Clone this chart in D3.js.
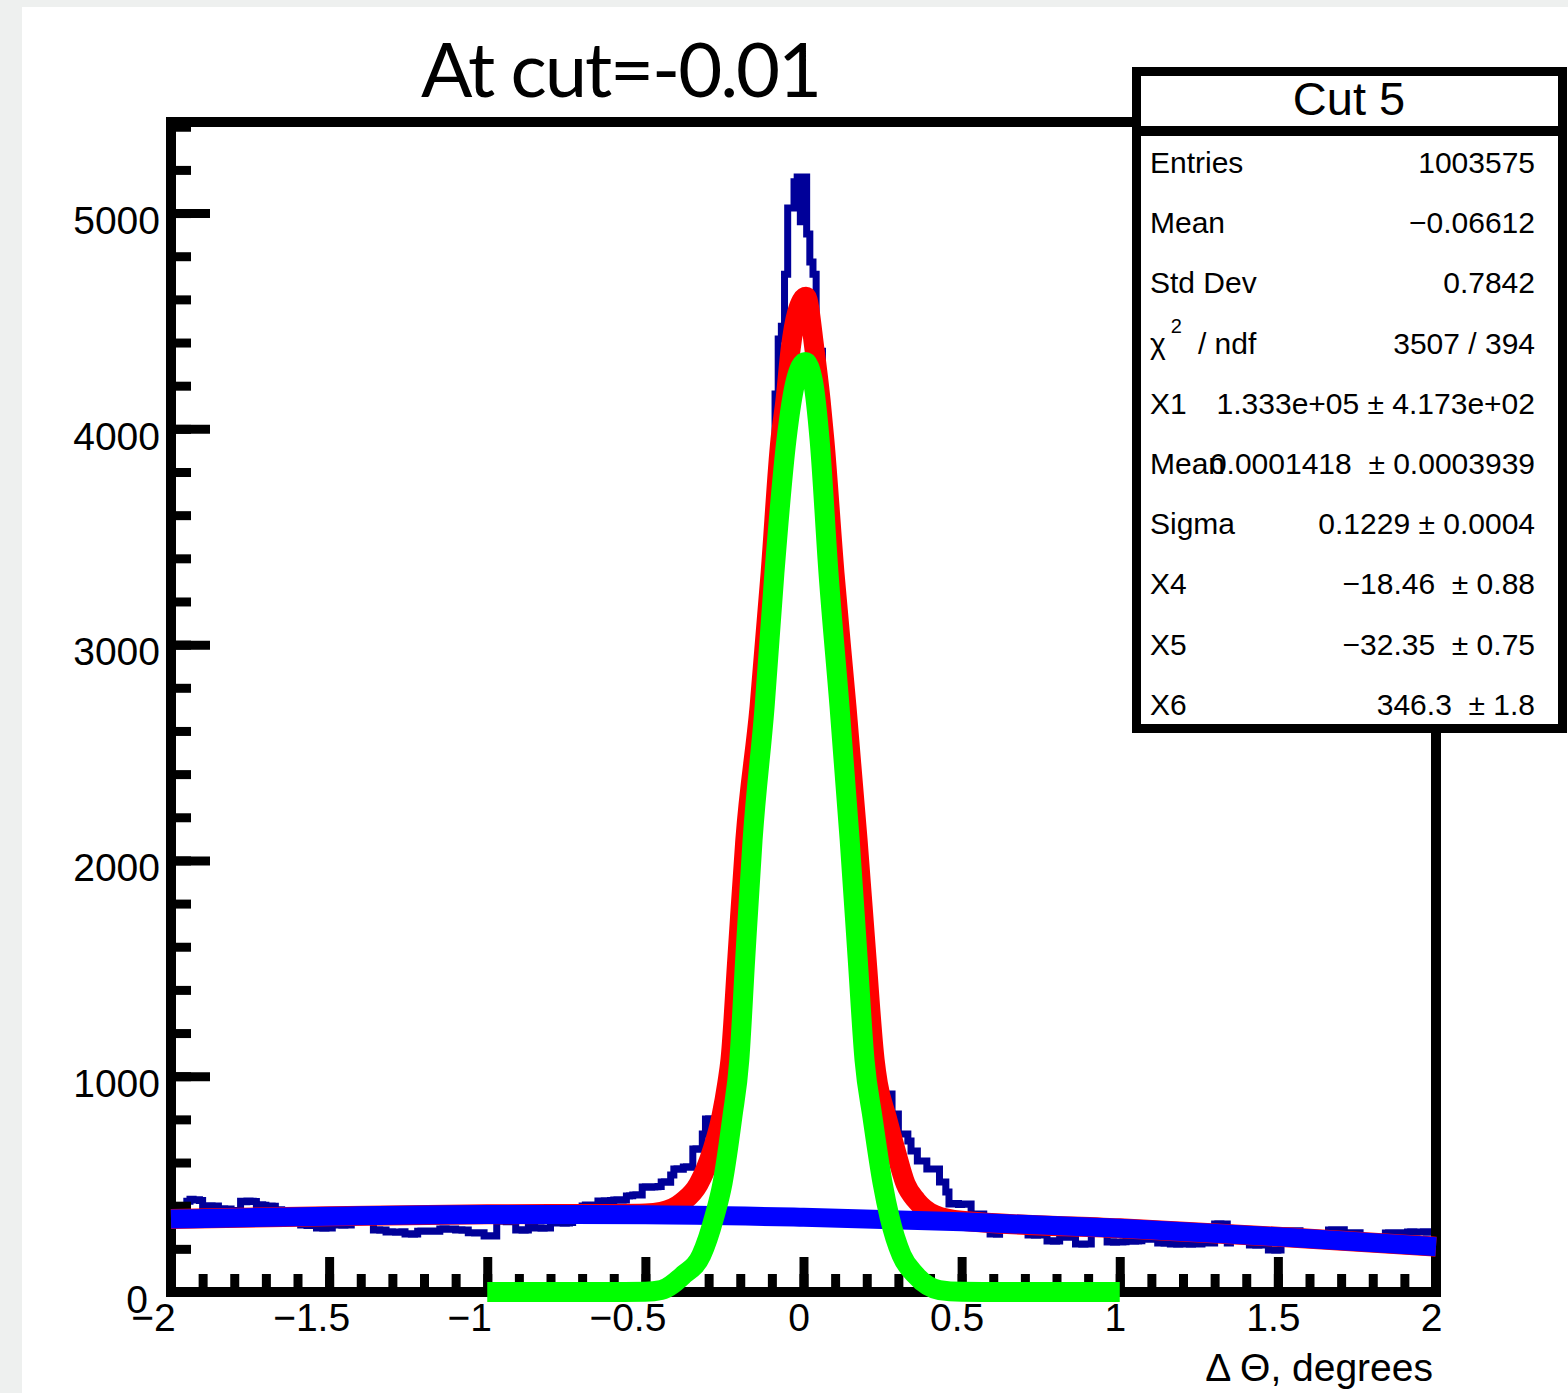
<!DOCTYPE html>
<html lang="en">
<head>
  <meta charset="UTF-8" />
  <title>At cut=-0.01</title>
  <style>
    body {
      margin: 0;
      background-color: #eef0ef;
    }
    svg {
      display: block;
    }
    text {
      font-family: 'Liberation Sans', Arial, sans-serif;
      fill: black;
    }
    .stat {
      font-size: 30px;
      white-space: pre;
    }
  </style>
  <script src="https://d3js.org/d3.v7.min.js"></script>
</head>
<body>
  <script>
    // histogram: 400 bins of 0.01 from -2 to 2
    const binStart = -2;
    const binWidth = 0.01;
    const counts = [
      360, 355, 365, 358, 352, 420, 430, 426, 428, 424,
      385, 398, 400, 396, 398, 385, 386, 384, 385, 376,
      376, 378, 420, 418, 422, 420, 419, 403, 404, 402,
      398, 399, 397, 380, 381, 345, 350, 340, 345, 348,
      342, 310, 312, 308, 311, 309, 297, 298, 296, 297,
      297, 330, 332, 310, 309, 311, 310, 335, 340, 332,
      338, 335, 330, 336, 287, 288, 286, 287, 278, 279,
      278, 277, 278, 279, 269, 270, 268, 269, 282, 283,
      281, 282, 283, 282, 281, 292, 293, 291, 292, 292,
      287, 288, 286, 287, 274, 275, 273, 274, 275, 260,
      261, 259, 260, 330, 328, 332, 325, 330, 327, 287,
      288, 286, 287, 305, 306, 297, 298, 296, 297, 297,
      325, 324, 320, 321, 319, 320, 322, 350, 348, 352,
      398, 403, 400, 402, 403, 422, 421, 423, 422, 424,
      426, 427, 425, 426, 445, 446, 450, 451, 449, 487,
      488, 486, 487, 488, 489, 510, 511, 509, 542, 570,
      571, 569, 579, 580, 578, 663, 664, 662, 732, 802,
      803, 760, 800, 840, 900, 990, 1100, 1310, 1530, 1750,
      1960, 2150, 2290, 2420, 2560, 2700, 2870, 3050, 3230, 3410,
      3610, 4161, 4416, 4476, 4717, 5023, 5023, 5145, 5167, 4960,
      5167, 4903, 4773, 4717, 4360, 4360, 3950, 3750, 3560, 3380,
      3200, 3020, 2850, 2680, 2500, 2330, 2150, 1950, 1750, 1560,
      1380, 1220, 1080, 980, 940, 917, 917, 917, 825, 825,
      732, 732, 732, 700, 653, 653, 607, 607, 607, 570,
      570, 570, 570, 510, 510, 464, 408, 408, 410, 406,
      408, 407, 408, 361, 362, 360, 361, 330, 332, 269,
      270, 268, 305, 310, 308, 312, 306, 310, 304, 309,
      305, 264, 265, 263, 264, 265, 264, 236, 237, 235,
      236, 255, 256, 254, 255, 256, 222, 223, 221, 222,
      222, 280, 275, 282, 278, 280, 232, 233, 231, 232,
      232, 233, 236, 237, 235, 236, 237, 245, 246, 244,
      245, 246, 227, 228, 226, 227, 222, 223, 221, 222,
      222, 223, 221, 222, 223, 222, 265, 262, 227, 227,
      315, 316, 314, 315, 227, 255, 252, 258, 254, 256,
      253, 218, 219, 217, 218, 219, 245, 195, 196, 194,
      195, 245, 283, 284, 282, 283, 284, 240, 244, 238,
      242, 240, 245, 238, 242, 240, 287, 288, 286, 287,
      288, 273, 274, 272, 273, 274, 232, 228, 230, 226,
      232, 229, 230, 227, 273, 274, 272, 273, 274, 273,
      235, 278, 279, 277, 278, 278, 279, 277, 278, 279
    ];

    // total fit (red)
    const redX = [-2, -1.5, -1, -0.6, -0.5, -0.45, -0.383, -0.332, -0.288, -0.26, -0.241, -0.231,
      -0.209, -0.184, -0.139, -0.104, -0.073, -0.057, -0.041, -0.02, 0.008, 0.035, 0.054, 0.066,
      0.098, 0.136, 0.171, 0.199, 0.225, 0.235, 0.263, 0.291, 0.323, 0.358, 0.415, 0.5, 1, 1.5, 2];
    const redY = [338, 351, 360, 362, 364, 371, 417, 500, 658, 811, 968, 1075,
      1552, 2095, 2711, 3332, 3948, 4133, 4365, 4540, 4612, 4365, 4133, 3948,
      3332, 2711, 2095, 1552, 1075, 968, 811, 658, 500, 422, 357, 330, 295, 256, 210];

    // background (blue)
    const bkgX = [-2, -1.5, -1, -0.5, 0, 0.5, 1, 1.5, 2];
    const bkgY = [338, 351, 359, 358, 346, 325, 295, 256, 210];

    // signal (green)
    const sigX = [-1, -0.6, -0.5, -0.45, -0.38, -0.323, -0.282, -0.256, -0.225, -0.203, -0.184,
      -0.161, -0.123, -0.092, -0.054, -0.025, 0.006, 0.03, 0.051, 0.079, 0.114, 0.146, 0.171,
      0.193, 0.218, 0.25, 0.272, 0.31, 0.354, 0.43, 0.5, 0.6, 1];
    const sigY = [0, 0, 1, 9, 79, 171, 348, 505, 811, 1075, 1552,
      2095, 2711, 3332, 3948, 4220, 4310, 4220, 3948, 3332, 2711, 2095, 1552,
      1075, 811, 505, 348, 171, 79, 9, 1, 0, 0];

    const xMajor = [-2, -1.5, -1, -0.5, 0, 0.5, 1, 1.5, 2];
    const xMinor = d3.range(-20, 21).map(d => d / 10);
    const yMajor = [0, 1000, 2000, 3000, 4000, 5000];
    const yMinor = d3.range(0, 5401, 200);

    const statLabels = ["Entries", "Mean", "Std Dev", "χ", "X1", "Mean", "Sigma", "X4", "X5", "X6"];
    const statValues = ["1003575", "\u22120.06612", "0.7842", "3507 / 394",
      "1.333e+05 ± 4.173e+02", "0.0001418  ± 0.0003939", "0.1229 ± 0.0004",
      "\u221218.46  ± 0.88", "\u221232.35  ± 0.75", "346.3  ± 1.8"];

    const width = 1568;
    const height = 1393;

    const svg = d3.select("body")
      .append("svg")
      .attr("width", width)
      .attr("height", height);

    svg.append("rect")
      .attr("x", 22).attr("y", 7)
      .attr("width", width - 22).attr("height", height - 7)
      .attr("fill", "white");

    const x = d3.scaleLinear().domain([-2, 2]).range([171, 1436]);
    const y = d3.scaleLinear().domain([0, 5422]).range([1292, 122]);

    // histogram outline
    const histPts = counts.map((c, i) => [binStart + i * binWidth, c]);
    histPts.push([2, counts[counts.length - 1]]);

    svg.append("path")
      .datum(histPts)
      .attr("fill", "none")
      .attr("stroke", "#000099")
      .attr("stroke-width", 7)
      .attr("d", d3.line()
        .x(d => x(d[0]))
        .y(d => y(d[1]))
        .curve(d3.curveStepAfter));

    // frame
    svg.append("rect")
      .attr("x", x(-2)).attr("y", y(5422))
      .attr("width", x(2) - x(-2)).attr("height", y(0) - y(5422))
      .attr("fill", "none")
      .attr("stroke", "black")
      .attr("stroke-width", 10);

    function styleTicks(g) {
      g.select(".domain").remove();
      g.selectAll("line").attr("stroke", "black").attr("stroke-width", 9);
    }

    svg.append("g")
      .attr("transform", `translate(0,${y(0)})`)
      .call(d3.axisBottom(x).tickValues(xMinor).tickSizeInner(-18).tickSizeOuter(0).tickFormat(""))
      .call(styleTicks);

    const fmt = d => (d < 0 ? "\u2212" + Math.abs(d) : String(d));

    const gx = svg.append("g")
      .attr("transform", `translate(0,${y(0)})`)
      .call(d3.axisBottom(x).tickValues(xMajor).tickSizeInner(-35).tickSizeOuter(0)
        .tickPadding(11).tickFormat(fmt))
      .call(styleTicks);
    gx.attr("font-size", 39);
    gx.selectAll("text")
      .attr("text-anchor", "middle")
      .attr("dx", d => (d < 0 ? -18 : -5));

    svg.append("g")
      .attr("transform", `translate(${x(-2)},0)`)
      .call(d3.axisLeft(y).tickValues(yMinor).tickSizeInner(-20).tickSizeOuter(0).tickFormat(""))
      .call(styleTicks);

    const gy = svg.append("g")
      .attr("transform", `translate(${x(-2)},0)`)
      .call(d3.axisLeft(y).tickValues(yMajor).tickSizeInner(-39).tickSizeOuter(0)
        .tickPadding(11).tickFormat(d => String(d)))
      .call(styleTicks);
    gy.attr("font-size", 39);
    gy.selectAll("text")
      .attr("dy", "0.52em")
      .attr("dx", d => (d === 0 ? -12 : 0));

    // fitted functions
    const fnLine = d3.line()
      .x(d => x(d[0]))
      .y(d => y(d[1]))
      .curve(d3.curveMonotoneX);

    function drawFn(xs, ys, color, w) {
      svg.append("path")
        .datum(xs.map((v, i) => [v, ys[i]]))
        .attr("fill", "none")
        .attr("stroke", color)
        .attr("stroke-width", w)
        .attr("stroke-linejoin", "round")
        .attr("d", fnLine);
    }

    drawFn(redX, redY, "#ff0000", 20);
    drawFn(bkgX, bkgY, "#0000ff", 19);
    drawFn(sigX, sigY, "#00ff00", 20);

    // stats box
    svg.append("rect")
      .attr("x", 1136.5).attr("y", 71.5)
      .attr("width", 426).attr("height", 657)
      .attr("fill", "white")
      .attr("stroke", "black")
      .attr("stroke-width", 9);

    svg.append("line")
      .attr("x1", 1136.5).attr("x2", 1562.5)
      .attr("y1", 131).attr("y2", 131)
      .attr("stroke", "black")
      .attr("stroke-width", 10);

    svg.append("text")
      .attr("x", 1349).attr("y", 115)
      .attr("text-anchor", "middle")
      .attr("font-size", 47)
      .text("Cut 5");

    statLabels.forEach((lab, i) => {
      const rowY = 173 + i * 60.2;
      const t = svg.append("text")
        .attr("class", "stat")
        .attr("x", 1150)
        .attr("y", rowY);
      if (lab === "χ") {
        t.append("tspan").text("χ");
        t.append("tspan").attr("font-size", 20).attr("dx", 5).attr("dy", -21).text("2");
        t.append("tspan").attr("dx", 16).attr("dy", 21).text("/ ndf");
      } else {
        t.text(lab);
      }
      svg.append("text")
        .attr("class", "stat")
        .attr("x", 1535)
        .attr("y", rowY)
        .attr("text-anchor", "end")
        .text(statValues[i]);
    });

    // titles
    svg.append("text")
      .attr("x", 421).attr("y", 97)
      .attr("font-size", 76)
      .attr("textLength", 401)
      .style("font-family", "Lato, 'Open Sans', sans-serif")
      .text("At cut=-0.01");

    svg.append("text")
      .attr("x", 1433).attr("y", 1381)
      .attr("text-anchor", "end")
      .attr("font-size", 39)
      .text("Δ Θ, degrees");
  </script>
</body>
</html>
